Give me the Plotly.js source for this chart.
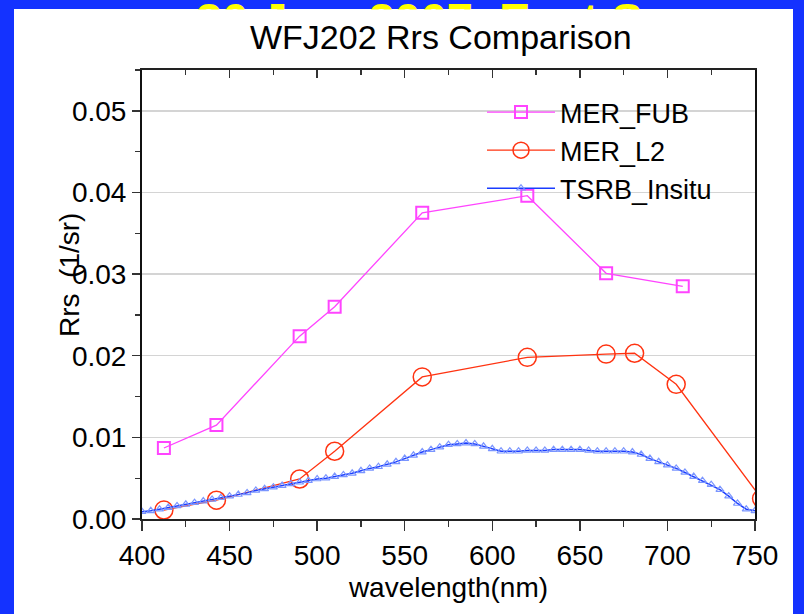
<!DOCTYPE html>
<html>
<head>
<meta charset="utf-8">
<script src="https://cdn.plot.ly/plotly-3.0.1.min.js"></script>
<style>html,body{margin:0;padding:0;background:#1432ff;}#chart{width:804px;height:614px;}</style>
</head>
<body>
<div id="chart"></div>
<script>
// ---- data ----
const fubWavelength = [412.5, 442.5, 490, 510, 560, 620, 665, 708.75];
const fubRrs = [0.0087, 0.0115, 0.0224, 0.0260, 0.0375, 0.0396, 0.0301, 0.0285];

const l2Wavelength = [412.5, 442.5, 490, 510, 560, 620, 665, 681.25, 705, 753.75];
const l2Rrs = [0.0011, 0.0023, 0.0049, 0.0083, 0.0174, 0.0198, 0.0202, 0.0203, 0.0165, 0.0025];

const insituWavelength = [400,405,410,415,420,425,430,435,440,445,450,455,460,465,470,475,480,485,490,495,
  500,505,510,515,520,525,530,535,540,545,550,555,560,565,570,575,580,585,590,595,
  600,605,610,615,620,625,630,635,640,645,650,655,660,665,670,675,680,685,690,695,
  700,705,710,715,720,725,730,735,740,745,750];
const insituRrs = [0.0009,0.0010,0.0012,0.0014,0.0016,0.0018,0.0020,0.0022,0.0024,0.0026,0.0028,0.0030,0.0032,0.0035,0.0037,0.0039,0.0041,0.0043,0.0045,0.0047,
  0.0049,0.0050,0.0052,0.0054,0.0056,0.0059,0.0062,0.0064,0.0067,0.0070,0.0074,0.0078,0.0082,0.0085,0.0088,0.0091,0.0092,0.0093,0.0092,0.0089,
  0.0086,0.0083,0.0083,0.0083,0.0084,0.0084,0.0084,0.0085,0.0085,0.0085,0.0085,0.0084,0.0083,0.0083,0.0083,0.0083,0.0082,0.0079,0.0074,0.0070,
  0.0066,0.0062,0.0057,0.0052,0.0047,0.0042,0.0036,0.0028,0.0019,0.0012,0.0010];

const seriesNames = ['MER_FUB', 'MER_L2', 'TSRB_Insitu'];
const xTicks = [400, 450, 500, 550, 600, 650, 700, 750];
const yTicks = [0.00, 0.01, 0.02, 0.03, 0.04, 0.05];
const chartTitle = 'WFJ202 Rrs Comparison';
const bannerText = '30 Jan. 2007, East Sea';
const xTitle = 'wavelength(nm)';
const yTitle = 'Rrs  (1/sr)';

// ---- layout helpers (pixel -> paper, margins are 0) ----
const W = 804, H = 614;
const px = x => x / W;
const py = y => 1 - y / H;
const FONT = 'Arial, "Liberation Sans", sans-serif';

const traces = [
  {x: fubWavelength, y: fubRrs, name: seriesNames[0], type: 'scatter', mode: 'lines+markers',
   line: {color: '#ff44ff', width: 1.3},
   marker: {symbol: 'square-open', size: 12, color: '#ff44ff', line: {width: 2, color: '#ff44ff'}}},
  {x: l2Wavelength, y: l2Rrs, name: seriesNames[1], type: 'scatter', mode: 'lines+markers',
   line: {color: '#ff3311', width: 1.3},
   marker: {symbol: 'circle-open', size: 18, color: '#ff3311', line: {width: 1.5, color: '#ff3311'}}},
  {x: insituWavelength, y: insituRrs, name: seriesNames[2], type: 'scatter', mode: 'lines+markers',
   line: {color: '#1a3cff', width: 1.5},
   marker: {symbol: 'triangle-up-open', size: 7, color: '#7a95ff', line: {width: 1.2, color: '#7390ff'}}},
  // invisible trace to bind the top axis
  {x: [400, 750], y: [0, 0], xaxis: 'x2', yaxis: 'y', mode: 'none', showlegend: false, hoverinfo: 'skip'}
];

const layout = {
  width: W, height: H,
  paper_bgcolor: '#1432ff',
  plot_bgcolor: 'white',
  margin: {l: 0, r: 0, t: 0, b: 0, pad: 0},
  showlegend: true,
  font: {family: FONT, color: 'black'},
  xaxis: {
    domain: [px(142), px(755)], range: [400, 750], tickvals: xTicks,
    ticks: 'outside', ticklen: 10, tickwidth: 1.5, tickcolor: '#333',
    minor: {dtick: 25, ticks: 'outside', ticklen: 6, tickwidth: 1.2, tickcolor: '#333'},
    showline: true, linecolor: '#222', linewidth: 2, mirror: true,
    showgrid: false, zeroline: false, automargin: false,
    tickfont: {size: 28, family: FONT, color: 'black'},
    title: {text: xTitle, font: {size: 28, family: FONT, color: 'black'}, standoff: 8}
  },
  xaxis2: {
    overlaying: 'x', side: 'top', range: [400, 750], tickvals: xTicks,
    ticks: 'inside', ticklen: 8, tickwidth: 1.5, tickcolor: '#333',
    minor: {dtick: 25, ticks: 'inside', ticklen: 5, tickwidth: 1.2, tickcolor: '#333'},
    showticklabels: false, showgrid: false, zeroline: false, showline: false, automargin: false
  },
  yaxis: {
    domain: [py(519), py(70)], range: [0, 0.055], tickvals: yTicks, tickformat: '.2f',
    ticks: 'outside', ticklen: 8, tickwidth: 1.5, tickcolor: '#333',
    minor: {dtick: 0.005, ticks: 'outside', ticklen: 5, tickwidth: 1.2, tickcolor: '#333', showgrid: false},
    showline: true, linecolor: '#111', linewidth: 2, mirror: true,
    showgrid: true, gridcolor: '#d4d4d4', gridwidth: 1.5, zeroline: false, automargin: false,
    tickfont: {size: 28, family: FONT, color: 'black'}
  },
  legend: {
    x: px(482), y: py(88), xanchor: 'left', yanchor: 'top',
    bgcolor: 'rgba(0,0,0,0)', borderwidth: 0,
    font: {size: 27, family: FONT, color: 'black'},
    itemwidth: 68, tracegroupgap: 0
  },
  shapes: [
    {type: 'rect', xref: 'paper', yref: 'paper', x0: px(14), x1: px(793), y0: py(614), y1: py(9),
     fillcolor: 'white', line: {width: 0}, layer: 'below'}
  ],
  annotations: [
    {text: '<b>' + bannerText + '</b>', xref: 'paper', yref: 'paper', x: px(446), y: py(19),
     xanchor: 'center', yanchor: 'middle', showarrow: false,
     font: {size: 47, family: FONT, color: '#ffff00'}},
    {text: ' ', xref: 'paper', yref: 'paper', x: px(14), y: py(9), xanchor: 'left', yanchor: 'top',
     width: 777, height: 40, bgcolor: 'white', showarrow: false, borderpad: 0},
    {text: chartTitle, xref: 'paper', yref: 'paper', x: px(441), y: py(37),
     xanchor: 'center', yanchor: 'middle', showarrow: false,
     font: {size: 34, family: FONT, color: 'black'}},
    {text: yTitle, xref: 'paper', yref: 'paper', x: px(69), y: py(275),
     xanchor: 'center', yanchor: 'middle', textangle: -90, showarrow: false,
     font: {size: 28, family: FONT, color: 'black'}}
  ]
};

Plotly.newPlot('chart', traces, layout, {displayModeBar: false, staticPlot: true});
</script>
</body>
</html>
